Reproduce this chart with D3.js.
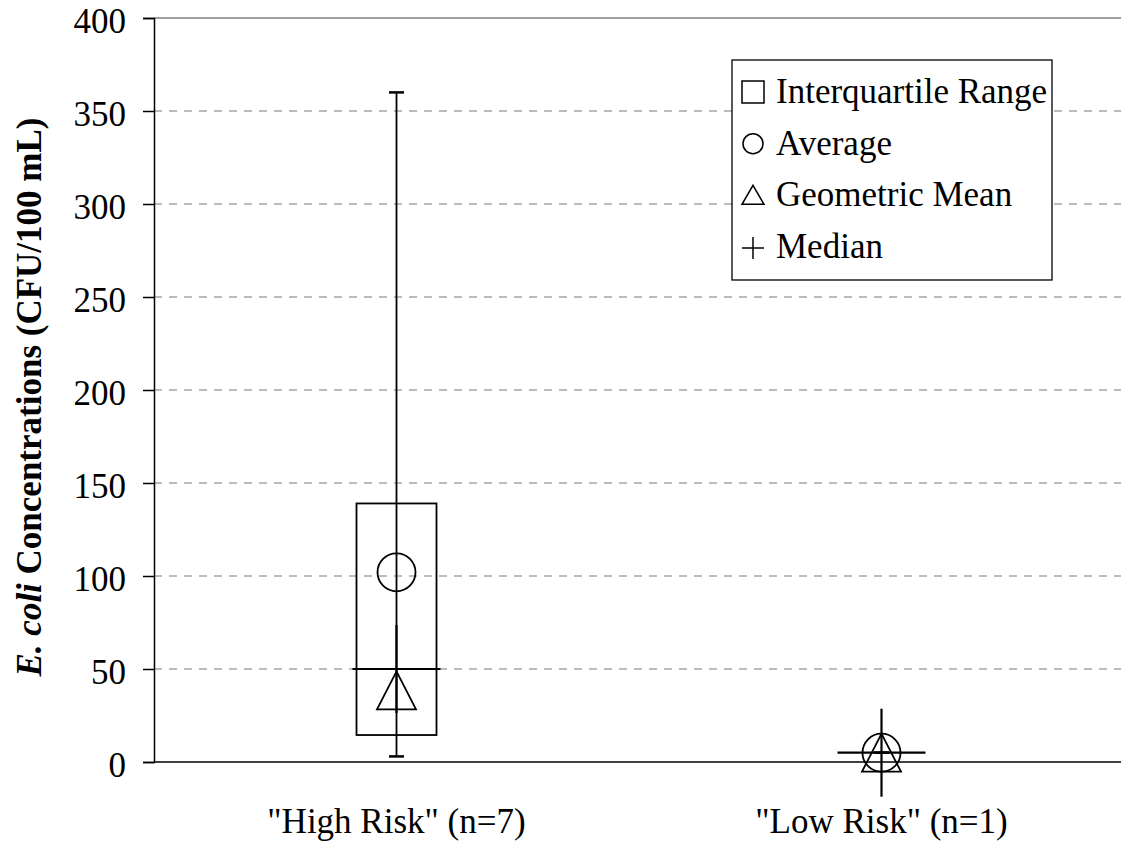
<!DOCTYPE html>
<meta charset="utf-8">
<script src="https://d3js.org/d3.v7.min.js"></script>
<style>
  body { margin: 0; background: #fff; }
  text { font-family: "Liberation Serif", "Times New Roman", serif; fill: #000; }
</style>
<svg id="chart" width="1121" height="846"></svg>
<script>
// data
var categories = ['"High Risk" (n=7)', '"Low Risk" (n=1)'];
var minVals    = [3, 5];
var maxVals    = [360, 5];
var q1Vals     = [14.5, null];
var q3Vals     = [139, null];
var meanVals   = [102, 5];
var geoVals    = [38.5, 5];
var medianVals = [50, 5];
var yTicks     = [0, 50, 100, 150, 200, 250, 300, 350, 400];
var legendItems = ["Interquartile Range", "Average", "Geometric Mean", "Median"];

var svg = d3.select("#chart");
var plotL = 154, plotR = 1124, plotT = 18, plotB = 762;

var x = d3.scaleBand().domain(categories).range([plotL, plotR]);
var y = d3.scaleLinear().domain([0, 400]).range([plotB, plotT]);

// gridlines
svg.append("g").selectAll("line")
  .data(yTicks.filter(function(d) { return d > 0; }))
  .enter().append("line")
  .attr("x1", plotL).attr("x2", plotR)
  .attr("y1", function(d) { return y(d); })
  .attr("y2", function(d) { return y(d); })
  .attr("stroke", function(d) { return d === 400 ? "#808080" : "#a6a6a6"; })
  .attr("stroke-width", 1.5)
  .attr("stroke-dasharray", function(d) { return d === 400 ? null : "8,7"; });

// y axis
var yAxis = svg.append("g")
  .attr("transform", "translate(" + plotL + ",0)")
  .call(d3.axisLeft(y).tickValues(yTicks).tickSize(11).tickPadding(17));
yAxis.selectAll("line, path").attr("stroke", "#000").attr("stroke-width", 1.5);
yAxis.selectAll("text")
  .style("font-family", "'Liberation Serif', serif")
  .style("font-size", "35px")
  .attr("dy", "0.42em");

// x axis line
svg.append("line")
  .attr("x1", plotL).attr("x2", plotR)
  .attr("y1", plotB).attr("y2", plotB)
  .attr("stroke", "#000").attr("stroke-width", 1.5);

// category labels
svg.append("g").selectAll("text")
  .data(categories)
  .enter().append("text")
  .attr("x", function(d) { return x(d) + x.bandwidth() / 2; })
  .attr("y", 833)
  .attr("text-anchor", "middle")
  .style("font-size", "35px")
  .text(function(d) { return d; });

// y title
var title = svg.append("text")
  .attr("transform", "translate(41,397) rotate(-90)")
  .attr("text-anchor", "middle")
  .style("font-size", "35px")
  .style("font-weight", "bold");
title.append("tspan").style("font-style", "italic").text("E. coli");
title.append("tspan").text(" Concentrations (CFU/100 mL)");

var boxW = 80, capW = 15, plusH = 44, circR = 19, triW = 39, triH = 38;
var marks = svg.append("g").attr("fill", "none").attr("stroke", "#000").attr("stroke-width", 1.8);

categories.forEach(function(c, i) {
  var cx = x(c) + x.bandwidth() / 2;

  // whisker
  marks.append("line").attr("x1", cx).attr("x2", cx)
    .attr("y1", y(minVals[i])).attr("y2", y(maxVals[i]));
  [minVals[i], maxVals[i]].forEach(function(v) {
    marks.append("line").attr("x1", cx - capW / 2).attr("x2", cx + capW / 2)
      .attr("y1", y(v)).attr("y2", y(v)).attr("stroke-width", 2.5);
  });

  // interquartile box
  if (q1Vals[i] !== null) {
    marks.append("rect")
      .attr("x", cx - boxW / 2).attr("width", boxW)
      .attr("y", y(q3Vals[i])).attr("height", y(q1Vals[i]) - y(q3Vals[i]));
  }

  // average
  marks.append("circle").attr("cx", cx).attr("cy", y(meanVals[i])).attr("r", circR);

  // geometric mean
  var gy = y(geoVals[i]);
  marks.append("path")
    .attr("d", "M" + cx + "," + (gy - triH / 2) +
               "L" + (cx + triW / 2) + "," + (gy + triH / 2) +
               "L" + (cx - triW / 2) + "," + (gy + triH / 2) + "Z");

  // median
  var my = y(medianVals[i]);
  marks.append("line").attr("x1", cx - plusH).attr("x2", cx + plusH)
    .attr("y1", my).attr("y2", my).attr("stroke-width", 2.2);
  marks.append("line").attr("x1", cx).attr("x2", cx)
    .attr("y1", my - plusH).attr("y2", my + plusH).attr("stroke-width", 2.2);
});

// legend
var lg = svg.append("g");
lg.append("rect")
  .attr("x", 732).attr("y", 60).attr("width", 320).attr("height", 220)
  .attr("fill", "#fff").attr("stroke", "#000").attr("stroke-width", 1.3);

var rowY = d3.scalePoint().domain(legendItems).range([103, 258]);
lg.selectAll("text.item")
  .data(legendItems)
  .enter().append("text")
  .attr("x", 776)
  .attr("y", function(d) { return rowY(d); })
  .style("font-size", "35px")
  .text(function(d) { return d; });

var sym = lg.append("g").attr("fill", "none").attr("stroke", "#000").attr("stroke-width", 1.5);
var sx = 753;
var s0 = rowY(legendItems[0]) - 11, s1 = rowY(legendItems[1]) - 11,
    s2 = rowY(legendItems[2]) - 11, s3 = rowY(legendItems[3]) - 10;
sym.append("rect").attr("x", sx - 11).attr("y", s0 - 11).attr("width", 22).attr("height", 22);
sym.append("circle").attr("cx", sx).attr("cy", s1).attr("r", 10);
sym.append("path").attr("d", "M" + sx + "," + (s2 - 10) + "L" + (sx + 11) + "," + (s2 + 9) +
                           "L" + (sx - 11) + "," + (s2 + 9) + "Z");
sym.append("line").attr("x1", sx - 11).attr("x2", sx + 11).attr("y1", s3).attr("y2", s3);
sym.append("line").attr("x1", sx).attr("x2", sx).attr("y1", s3 - 11).attr("y2", s3 + 11);
</script>
